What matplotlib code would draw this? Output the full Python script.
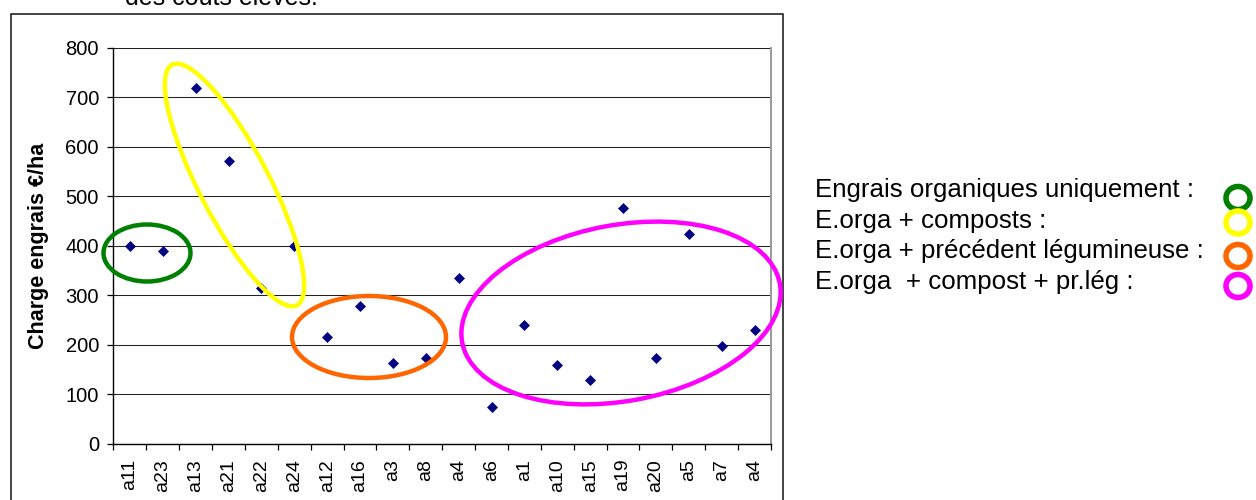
import matplotlib
matplotlib.use("Agg")
import matplotlib.pyplot as plt
from matplotlib.patches import Ellipse, Rectangle
from matplotlib.transforms import IdentityTransform

plt.rcParams['font.family'] = ['Liberation Sans', 'DejaVu Sans']

categories = ["a11", "a23", "a13", "a21", "a22", "a24", "a12", "a16", "a3", "a8",
              "a4", "a6", "a1", "a10", "a15", "a19", "a20", "a5", "a7", "a4"]
charges = [400, 390, 718, 572, 315, 400, 215, 278, 162, 172,
           335, 74, 240, 158, 129, 476, 172, 423, 198, 230]
y_ticks = [0, 100, 200, 300, 400, 500, 600, 700, 800]
legend_labels = ["Engrais organiques uniquement :",
                 "E.orga + composts :",
                 "E.orga + précédent légumineuse :",
                 "E.orga  + compost + pr.lég :"]
group_colors = ["#008000", "#FFFF00", "#FF6600", "#FF00FF"]

W, H = 1256, 500
fig = plt.figure(figsize=(W / 100, H / 100), dpi=100)
fig.patch.set_facecolor("white")

def fx(px):
    return px / W

def fy(py):
    return 1 - py / H

# axes placement (pixels): left 113.5, right 771, top 47.7, bottom 443.5
ax = fig.add_axes([fx(113.5), fy(443.5), fx(771) - fx(113.5), fy(47.7) - fy(443.5)])

n = len(categories)
xs = [i + 0.5 for i in range(n)]
ax.plot(xs, charges, linestyle="none", marker="D", markersize=4.6,
        color="#000080", markeredgecolor="#000080", markeredgewidth=0.5, zorder=3)

ax.set_xlim(0, n)
ax.set_ylim(0, 800)
ax.set_yticks(y_ticks)
ax.set_yticklabels([str(v) for v in y_ticks], fontsize=14.5)
ax.yaxis.grid(True, color="#222222", linewidth=0.75)
ax.set_axisbelow(True)

ax.set_xticks(range(n + 1))
ax.set_xticklabels([""] * (n + 1))
ax.set_xticks(xs, minor=True)
ax.set_xticklabels(categories, minor=True, rotation=90, fontsize=14)
ax.tick_params(axis="x", which="major", direction="out", length=4, width=0.9, color="black")
ax.tick_params(axis="x", which="minor", length=0, pad=11)
ax.tick_params(axis="y", direction="out", length=4.5, width=0.9, color="black", pad=6)

ax.spines["top"].set_visible(False)
ax.spines["left"].set_color("black")
ax.spines["bottom"].set_color("black")
ax.spines["left"].set_linewidth(1.0)
ax.spines["bottom"].set_linewidth(1.0)
ax.spines["right"].set_color("#999999")
ax.spines["right"].set_linewidth(1.4)

ax.set_ylabel("Charge engrais €/ha", fontsize=15.5, fontweight="bold")
axw = fx(771) - fx(113.5)
ax.yaxis.set_label_coords((fx(49) - fx(113.5)) / axw, 0.5)

# outer chart frame
fig.add_artist(Rectangle((fx(11), -0.1), fx(782.5) - fx(11), fy(14) + 0.1,
                         transform=fig.transFigure, fill=False, edgecolor="#111111",
                         linewidth=1.1, zorder=0.5))

# top caption (cut by the top of the picture, as in the reference)
fig.text(fx(125), fy(5), "des coûts élevés.", fontsize=18, ha="left", va="baseline")

# group ellipses, in pixel coordinates (x, y from top, width, height, angle)
def pix_ellipse(cx, cy, w, h, angle, color, lw=3.2):
    e = Ellipse((cx, H - cy), w, h, angle=angle, transform=IdentityTransform(),
                fill=False, edgecolor=color, linewidth=lw, zorder=4)
    fig.add_artist(e)

pix_ellipse(147, 253, 87, 57, 0, group_colors[0])
pix_ellipse(234.5, 185, 271, 70, -62.6, group_colors[1])
pix_ellipse(369, 337, 154, 82, 0, group_colors[2])
pix_ellipse(621, 313, 323, 176, 10.5, group_colors[3])

# legend text and rings
baselines = [197, 228, 258, 289]
ring_y = [198, 222.5, 256, 286]
for lab, by, ry, col in zip(legend_labels, baselines, ring_y, group_colors):
    fig.text(fx(815), fy(by), lab, fontsize=18.6, ha="left", va="baseline")
    pix_ellipse(1238, ry, 24, 23, 0, col, lw=4.0)

fig.savefig("out.png", dpi=100, facecolor="white")
